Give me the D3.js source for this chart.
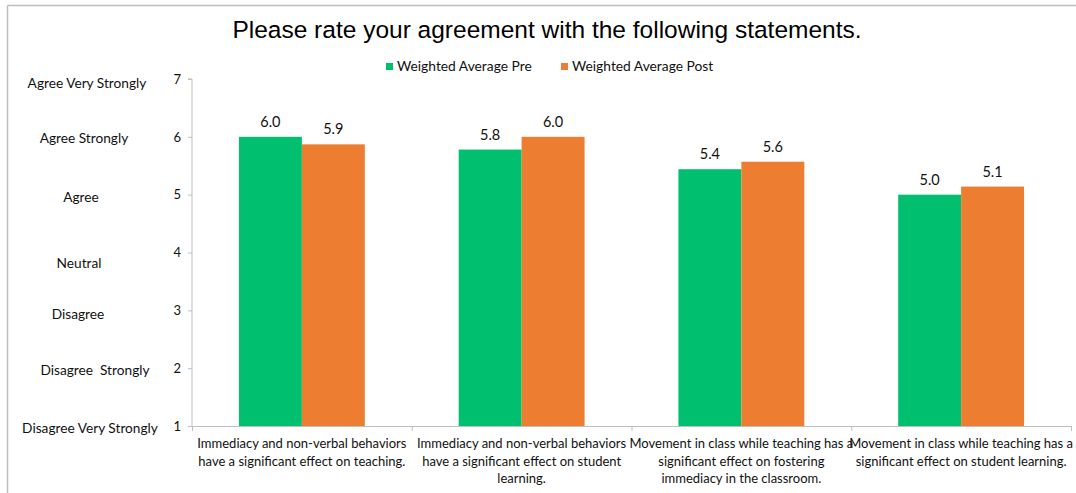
<!DOCTYPE html>
<html>
<head>
<meta charset="utf-8">
<script src="https://cdn.jsdelivr.net/npm/d3@7"></script>
<style>
  html, body { margin: 0; padding: 0; background: #fff; }
  svg { display: block; }
</style>
</head>
<body>
<svg id="chart" width="1076" height="493"></svg>
<script>
// ---- data ----
const title = "Please rate your agreement with the following statements.";
const categories = [
  ["Immediacy and non-verbal behaviors", "have a significant effect on teaching."],
  ["Immediacy and non-verbal behaviors", "have a significant effect on student", "learning."],
  ["Movement in class while teaching has a", "significant effect on fostering", "immediacy in the classroom."],
  ["Movement in class while teaching has a", "significant effect on student learning."]
];
const seriesNames = ["Weighted Average Pre", "Weighted Average Post"];
const preValues = [6.0, 5.78, 5.44, 5.0];
const postValues = [5.87, 6.0, 5.57, 5.14];
const yTicks = [1, 2, 3, 4, 5, 6, 7];
const scaleLabels = ["Disagree Very Strongly", "Disagree  Strongly", "Disagree", "Neutral", "Agree", "Agree Strongly", "Agree Very Strongly"];
const colors = ["#00BF6F", "#ED7D31"];

// ---- layout ----
const svg = d3.select("#chart");
const font = "Lato, 'Open Sans', sans-serif";
const plotLeft = 192, plotRight = 1071, plotTop = 79, plotBottom = 426;

const x0 = d3.scaleBand().domain(d3.range(categories.length)).range([plotLeft, plotRight]).paddingInner(0).paddingOuter(0);
const groupPad = 0.2136;
const x1 = d3.scaleBand().domain([0, 1])
  .range([x0.bandwidth() * groupPad, x0.bandwidth() * (1 - groupPad)]).padding(0);
const y = d3.scaleLinear().domain([1, 7]).range([plotBottom, plotTop]);

// frame
svg.append("line").attr("x1", 7.5).attr("x2", 1076).attr("y1", 5.5).attr("y2", 5.5)
  .attr("stroke", "#BDBDBD").attr("stroke-width", 1.5);
svg.append("line").attr("x1", 7.5).attr("x2", 7.5).attr("y1", 5.5).attr("y2", 493)
  .attr("stroke", "#BDBDBD").attr("stroke-width", 1.5);

// title
svg.append("text").attr("x", 547).attr("y", 38).attr("text-anchor", "middle")
  .attr("font-family", "'Liberation Sans', Arial, sans-serif").attr("font-size", 24.5)
  .attr("fill", "#000").text(title);

// legend
const legendX = [386, 561];
seriesNames.forEach((name, i) => {
  const g = svg.append("g").attr("transform", `translate(${legendX[i]},63)`);
  g.append("rect").attr("width", 7).attr("height", 7).attr("fill", colors[i]);
  g.append("text").attr("x", 11).attr("y", 8).attr("font-family", font).attr("font-size", 13.8)
    .attr("fill", "#111").text(name);
});

// y axis
const yAxis = d3.axisLeft(y).tickValues(yTicks).tickSize(4).tickPadding(7).tickFormat(d3.format("d"));
const gy = svg.append("g").attr("transform", `translate(${plotLeft},0)`).call(yAxis);
gy.select(".domain").attr("stroke", "#BFBFBF").attr("d", `M-4,${y(7)}H0V${y(1)}`);
gy.selectAll(".tick line").attr("stroke", "#BFBFBF");
gy.selectAll(".tick text").attr("font-family", font).attr("font-size", 13).attr("fill", "#111");

// scale labels (left)
const labelDx = [90, 95, 78, 79, 81, 84, 87];
const labelDy = [2, 2, 4, 10, 2, 1, 4];
scaleLabels.forEach((lab, i) => {
  svg.append("text").attr("x", labelDx[i]).attr("y", y(yTicks[i]) + labelDy[i] + 5)
    .attr("text-anchor", "middle").attr("font-family", font).attr("font-size", 13.7)
    .attr("fill", "#111").attr("xml:space", "preserve").style("white-space", "pre").text(lab);
});

// x axis
const xAxisLine = svg.append("g");
xAxisLine.append("line").attr("x1", plotLeft).attr("x2", plotRight).attr("y1", y(1) + 0.5).attr("y2", y(1) + 0.5)
  .attr("stroke", "#BFBFBF");
d3.range(categories.length + 1).forEach(i => {
  const xx = i < categories.length ? x0(i) : plotRight;
  xAxisLine.append("line").attr("x1", xx + 0.5).attr("x2", xx + 0.5).attr("y1", y(1)).attr("y2", y(1) + 5)
    .attr("stroke", "#BFBFBF");
});

// category labels
categories.forEach((lines, i) => {
  const t = svg.append("text").attr("text-anchor", "middle").attr("font-family", font)
    .attr("font-size", 13).attr("fill", "#111");
  lines.forEach((ln, j) => {
    t.append("tspan").attr("x", x0(i) + x0.bandwidth() / 2).attr("y", 448 + j * 17.5).text(ln);
  });
});

// bars
const series = [preValues, postValues];
series.forEach((vals, s) => {
  svg.append("g").selectAll("rect").data(vals).join("rect")
    .attr("x", (d, i) => x0(i) + x1(s))
    .attr("y", d => y(d))
    .attr("width", x1.bandwidth())
    .attr("height", d => y(1) - y(d))
    .attr("fill", colors[s]);
  svg.append("g").selectAll("text").data(vals).join("text")
    .attr("x", (d, i) => x0(i) + x1(s) + x1.bandwidth() / 2)
    .attr("y", d => y(d) - 10)
    .attr("text-anchor", "middle").attr("font-family", font).attr("font-size", 14.5)
    .attr("fill", "#111").text(d => d3.format(".1f")(d));
});
</script>
</body>
</html>
